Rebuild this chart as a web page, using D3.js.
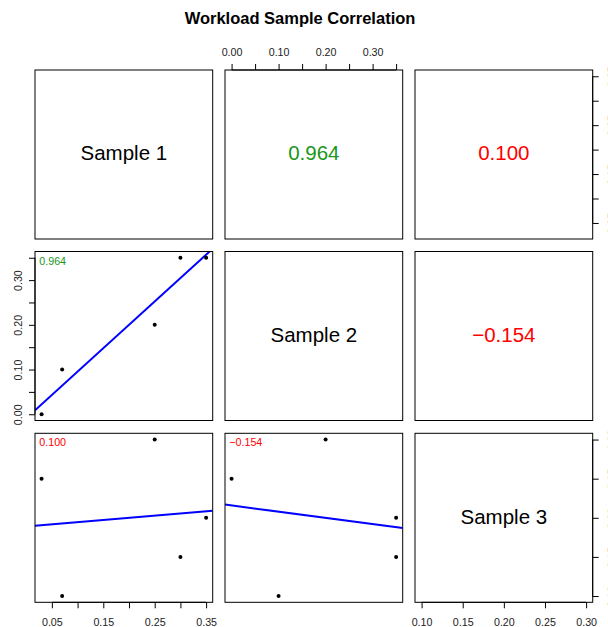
<!DOCTYPE html>
<html>
<head>
<meta charset="utf-8">
<script src="https://cdn.jsdelivr.net/npm/d3@7"></script>
<style>
  body { margin: 0; background: #fff; }
  svg { display: block; font-family: "Liberation Sans", Arial, Helvetica, sans-serif; }
</style>
</head>
<body>
<div id="chart"></div>
<script>
const title = "Workload Sample Correlation";
const categories = ["Sample 1", "Sample 2", "Sample 3"];
const sample1 = [0.03, 0.07, 0.25, 0.30, 0.35];
const sample2 = [0.00, 0.10, 0.20, 0.35, 0.35];
const sample3 = [0.25, 0.10, 0.30, 0.15, 0.20];

// tick positions and which of them carry a label
const ticks1 = [0.05, 0.10, 0.15, 0.20, 0.25, 0.30, 0.35];
const labels1 = [0.05, 0.15, 0.25, 0.35];
const ticks2 = [0.00, 0.05, 0.10, 0.15, 0.20, 0.25, 0.30, 0.35];
const labels2 = [0.00, 0.10, 0.20, 0.30];
const ticks3 = [0.10, 0.15, 0.20, 0.25, 0.30];
const labels3 = [0.10, 0.15, 0.20, 0.25, 0.30];

const series = [sample1, sample2, sample3];
const tickSets = [ticks1, ticks2, ticks3];
const labelSets = [labels1, labels2, labels3];

const width = 608, height = 627;
const colX = [35, 225, 415], panelW = 177.7;
const rowY = [70, 251.5, 433.3], panelH = 169;
const tickLen = 6;
const fmt = d3.format(".2f");
const green = "#1a961a", red = "#ff0000";

function pearson(a, b) {
    const ma = d3.mean(a), mb = d3.mean(b);
    let sab = 0, saa = 0, sbb = 0;
    a.forEach((v, i) => {
        sab += (v - ma) * (b[i] - mb);
        saa += (v - ma) ** 2;
        sbb += (b[i] - mb) ** 2;
    });
    return { r: sab / Math.sqrt(saa * sbb), slope: sab / saa, icpt: mb - (sab / saa) * ma };
}

// R style range: data range widened by 4%
function extDomain(v) {
    const [lo, hi] = d3.extent(v);
    const d = (hi - lo) * 0.04;
    return [lo - d, hi + d];
}

const svg = d3.select("#chart").append("svg")
    .attr("width", width)
    .attr("height", height);

svg.append("text")
    .attr("x", 300)
    .attr("y", 23.5)
    .attr("text-anchor", "middle")
    .attr("font-size", "16.5px")
    .attr("font-weight", "bold")
    .text(title);

const xScales = series.map((s, j) => d3.scaleLinear().domain(extDomain(s)).range([colX[j], colX[j] + panelW]));
const yScales = series.map((s, i) => d3.scaleLinear().domain(extDomain(s)).range([rowY[i] + panelH, rowY[i]]));

const defs = svg.append("defs");

for (let i = 0; i < 3; i++) {
    for (let j = 0; j < 3; j++) {
        const x0 = colX[j], y0 = rowY[i];
        const g = svg.append("g");

        if (i === j) {
            g.append("text")
                .attr("x", x0 + panelW / 2)
                .attr("y", y0 + panelH / 2 + 5.7)
                .attr("text-anchor", "middle")
                .attr("font-size", "20.5px")
                .text(categories[i]);
        } else if (i < j) {
            const c = pearson(series[j], series[i]);
            g.append("text")
                .attr("x", x0 + panelW / 2)
                .attr("y", y0 + panelH / 2 + 5.7)
                .attr("text-anchor", "middle")
                .attr("font-size", "20.5px")
                .attr("fill", c.r > 0.5 ? green : red)
                .text(d3.format(".3f")(c.r).replace("-", "\u2212"));
        } else {
            // scatter: x = column variable, y = row variable
            const xs = xScales[j], ys = yScales[i];
            const xv = series[j], yv = series[i];
            const c = pearson(xv, yv);
            const clipId = "clip" + i + j;
            defs.append("clipPath").attr("id", clipId)
                .append("rect")
                .attr("x", x0).attr("y", y0)
                .attr("width", panelW).attr("height", panelH);

            const dom = xs.domain();
            g.append("line")
                .attr("clip-path", `url(#${clipId})`)
                .attr("x1", xs(dom[0]))
                .attr("y1", ys(c.icpt + c.slope * dom[0]))
                .attr("x2", xs(dom[1]))
                .attr("y2", ys(c.icpt + c.slope * dom[1]))
                .attr("stroke", "#0000ff")
                .attr("stroke-width", 2);

            g.selectAll("circle")
                .data(xv.map((v, k) => [v, yv[k]]))
                .enter()
                .append("circle")
                .attr("cx", d => xs(d[0]))
                .attr("cy", d => ys(d[1]))
                .attr("r", 2)
                .attr("fill", "#000");

            g.append("text")
                .attr("x", x0 + 4.3)
                .attr("y", y0 + 13)
                .attr("font-size", "10.7px")
                .attr("fill", c.r > 0.5 ? green : red)
                .text(d3.format(".3f")(c.r).replace("-", "\u2212"));
        }

        g.append("rect")
            .attr("x", x0).attr("y", y0)
            .attr("width", panelW).attr("height", panelH)
            .attr("fill", "none")
            .attr("stroke", "#000")
            .attr("stroke-width", 1);
    }
}

// axes: top for col 2, bottom for cols 1 and 3, left for row 2, right for rows 1 and 3
function labelFmt(set) {
    return d => set.some(v => Math.abs(v - d) < 1e-9) ? fmt(d) : "";
}

function axisLine(g, horizontal, scale, ticks, pos) {
    const a = scale(d3.min(ticks)), b = scale(d3.max(ticks));
    if (horizontal) {
        g.append("line").attr("x1", a).attr("x2", b).attr("y1", pos).attr("y2", pos)
            .attr("stroke", "#000");
    } else {
        g.append("line").attr("y1", a).attr("y2", b).attr("x1", pos).attr("x2", pos)
            .attr("stroke", "#000");
    }
}

function styleAxis(g) {
    g.select(".domain").remove();
    g.selectAll(".tick line").attr("stroke", "#000");
    g.selectAll(".tick text").attr("fill", "#222").attr("font-size", "10.7px")
        .attr("font-family", "Liberation Sans, Arial, sans-serif");
}

// top axis over column 2
{
    const y = rowY[0];
    const g = svg.append("g").attr("transform", `translate(0,${y})`)
        .call(d3.axisTop(xScales[1]).tickValues(ticks2).tickFormat(labelFmt(labels2))
            .tickSize(tickLen).tickPadding(8.5));
    styleAxis(g);
    axisLine(svg, true, xScales[1], ticks2, y);
}

// bottom axes under columns 1 and 3
[0, 2].forEach(j => {
    const y = rowY[2] + panelH;
    const g = svg.append("g").attr("transform", `translate(0,${y})`)
        .call(d3.axisBottom(xScales[j]).tickValues(tickSets[j]).tickFormat(labelFmt(labelSets[j]))
            .tickSize(tickLen).tickPadding(10));
    styleAxis(g);
    axisLine(svg, true, xScales[j], tickSets[j], y);
});

// left axis for row 2, labels parallel to axis
{
    const x = colX[0];
    const g = svg.append("g").attr("transform", `translate(${x},0)`)
        .call(d3.axisLeft(yScales[1]).tickValues(ticks2).tickFormat(labelFmt(labels2))
            .tickSize(tickLen));
    styleAxis(g);
    g.selectAll(".tick text")
        .attr("x", null).attr("dy", null)
        .attr("text-anchor", "middle")
        .attr("transform", "translate(-13.3,0) rotate(-90)");
    axisLine(svg, false, yScales[1], ticks2, x);
}

// right axes for rows 1 and 3 (labels fall mostly past the page edge)
[0, 2].forEach(i => {
    const x = colX[2] + panelW;
    const g = svg.append("g").attr("transform", `translate(${x},0)`)
        .call(d3.axisRight(yScales[i]).tickValues(tickSets[i]).tickFormat(labelFmt(labelSets[i]))
            .tickSize(tickLen));
    styleAxis(g);
    g.selectAll(".tick text")
        .attr("x", null).attr("dy", null)
        .attr("text-anchor", "middle")
        .attr("transform", "translate(23,0) rotate(-90)");
    axisLine(svg, false, yScales[i], tickSets[i], x);
});
</script>
</body>
</html>
